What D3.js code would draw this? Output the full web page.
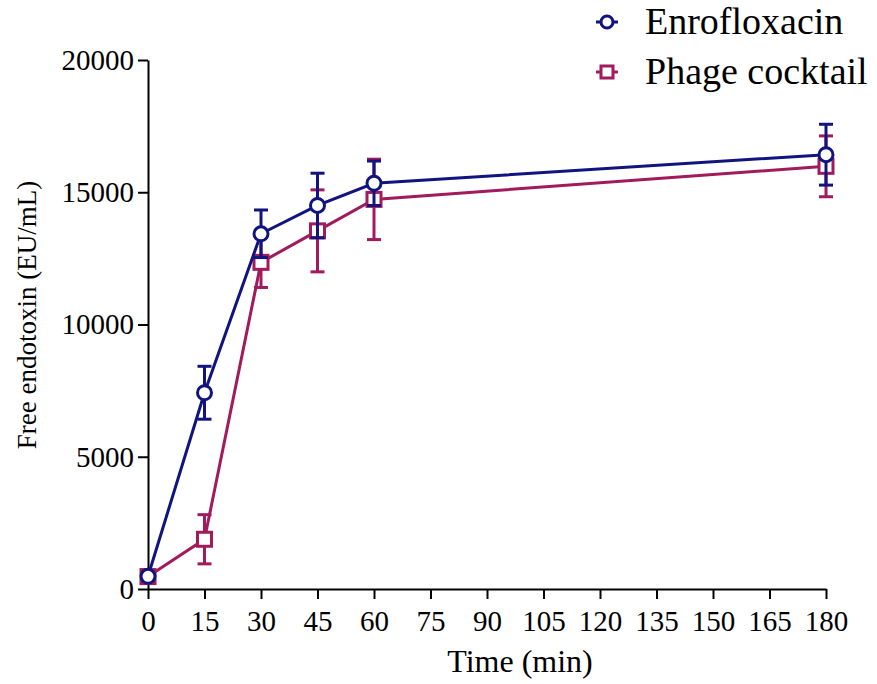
<!DOCTYPE html>
<html>
<head>
<meta charset="utf-8">
<script src="https://cdn.jsdelivr.net/npm/d3@7"></script>
<style>
  body { margin: 0; background: #fff; }
</style>
</head>
<body>
<svg id="svg" width="877" height="684"></svg>
<script>
// time points (min)
const times = [0, 15, 30, 45, 60, 180];
const xTicks = [0, 15, 30, 45, 60, 75, 90, 105, 120, 135, 150, 165, 180];
const yTicks = [0, 5000, 10000, 15000, 20000];

// Enrofloxacin mean / sd
const enroMean = [480, 7420, 13430, 14500, 15340, 16420];
const enroErr  = [100, 1000, 900, 1220, 840, 1150];
// Phage cocktail mean / sd
const phageMean = [470, 1880, 12350, 13540, 14730, 15980];
const phageErr  = [100, 930, 950, 1550, 1520, 1150];

const FONT = "'Liberation Serif', 'DejaVu Serif', serif";

const series = [
  {name: "Phage cocktail", mean: phageMean, err: phageErr, color: "#a11a5c", shape: "square"},
  {name: "Enrofloxacin", mean: enroMean, err: enroErr, color: "#11137f", shape: "circle"}
];

const svg = d3.select("#svg");
const x = d3.scaleLinear().domain([0, 180]).range([148, 826]);
const y = d3.scaleLinear().domain([0, 20000]).range([589, 60]);

// axes
svg.append("g")
   .attr("transform", "translate(0,589)")
   .call(d3.axisBottom(x).tickValues(xTicks).tickSize(10).tickSizeOuter(0).tickFormat(d3.format("d")))
   .call(g => g.select(".domain").attr("stroke", "#000").attr("stroke-width", 2))
   .call(g => g.selectAll(".tick line").attr("stroke", "#000").attr("stroke-width", 2))
   .call(g => g.selectAll(".tick text").style("font-size", "29px").attr("dy", "1.0em")
               .style("font-family", FONT).attr("fill", "#000"));

svg.append("g")
   .attr("transform", "translate(148,0)")
   .call(d3.axisLeft(y).tickValues(yTicks).tickSize(10).tickSizeOuter(0).tickFormat(d3.format("d")))
   .call(g => g.select(".domain").attr("stroke", "#000").attr("stroke-width", 2))
   .call(g => g.selectAll(".tick line").attr("stroke", "#000").attr("stroke-width", 2))
   .call(g => g.selectAll(".tick text").style("font-size", "29px").attr("x", -14)
               .style("font-family", FONT).attr("fill", "#000"));

// axis titles
svg.append("text")
   .attr("x", 520).attr("y", 672)
   .attr("text-anchor", "middle")
   .style("font-family", FONT).style("font-size", "32px")
   .text("Time (min)");

svg.append("text")
   .attr("transform", "translate(36,315) rotate(-90)")
   .attr("text-anchor", "middle")
   .style("font-family", FONT).style("font-size", "27px")
   .text("Free endotoxin (EU/mL)");

// lines, error bars, markers
const line = d3.line().x(d => x(d[0])).y(d => y(d[1]));
const cap = 7;

series.forEach(s => {
  const pts = times.map((t, i) => [t, s.mean[i], s.err[i]]);
  const g = svg.append("g");

  g.append("path")
   .datum(pts)
   .attr("d", line)
   .attr("fill", "none")
   .attr("stroke", s.color)
   .attr("stroke-width", 3);

  const eb = g.selectAll(".eb").data(pts.filter(d => d[0] > 0)).enter().append("g");
  eb.append("line")
    .attr("x1", d => x(d[0])).attr("x2", d => x(d[0]))
    .attr("y1", d => y(d[1] + d[2])).attr("y2", d => y(d[1] - d[2]))
    .attr("stroke", s.color).attr("stroke-width", 3);
  eb.append("line")
    .attr("x1", d => x(d[0]) - cap).attr("x2", d => x(d[0]) + cap)
    .attr("y1", d => y(d[1] + d[2])).attr("y2", d => y(d[1] + d[2]))
    .attr("stroke", s.color).attr("stroke-width", 3);
  eb.append("line")
    .attr("x1", d => x(d[0]) - cap).attr("x2", d => x(d[0]) + cap)
    .attr("y1", d => y(d[1] - d[2])).attr("y2", d => y(d[1] - d[2]))
    .attr("stroke", s.color).attr("stroke-width", 3);

  if (s.shape === "circle") {
    g.selectAll(".mk").data(pts).enter().append("circle")
     .attr("cx", d => x(d[0])).attr("cy", d => y(d[1]))
     .attr("r", 7)
     .attr("fill", "#fff").attr("stroke", s.color).attr("stroke-width", 3);
  } else {
    g.selectAll(".mk").data(pts).enter().append("rect")
     .attr("x", d => x(d[0]) - 7).attr("y", d => y(d[1]) - 7)
     .attr("width", 14).attr("height", 14)
     .attr("fill", "#fff").attr("stroke", s.color).attr("stroke-width", 3);
  }
});

// legend
const legend = [
  {name: "Enrofloxacin", color: "#11137f", shape: "circle", y: 22},
  {name: "Phage cocktail", color: "#a11a5c", shape: "square", y: 72}
];
legend.forEach(l => {
  const g = svg.append("g");
  g.append("line")
   .attr("x1", 596).attr("x2", 618).attr("y1", l.y).attr("y2", l.y)
   .attr("stroke", l.color).attr("stroke-width", 3);
  if (l.shape === "circle") {
    g.append("circle").attr("cx", 607).attr("cy", l.y).attr("r", 6)
     .attr("fill", "#fff").attr("stroke", l.color).attr("stroke-width", 3);
  } else {
    g.append("rect").attr("x", 601).attr("y", l.y - 6).attr("width", 12).attr("height", 12)
     .attr("fill", "#fff").attr("stroke", l.color).attr("stroke-width", 3);
  }
  g.append("text")
   .attr("x", 645).attr("y", l.y + 12)
   .style("font-family", FONT).style("font-size", "38px")
   .text(l.name);
});
</script>
</body>
</html>
